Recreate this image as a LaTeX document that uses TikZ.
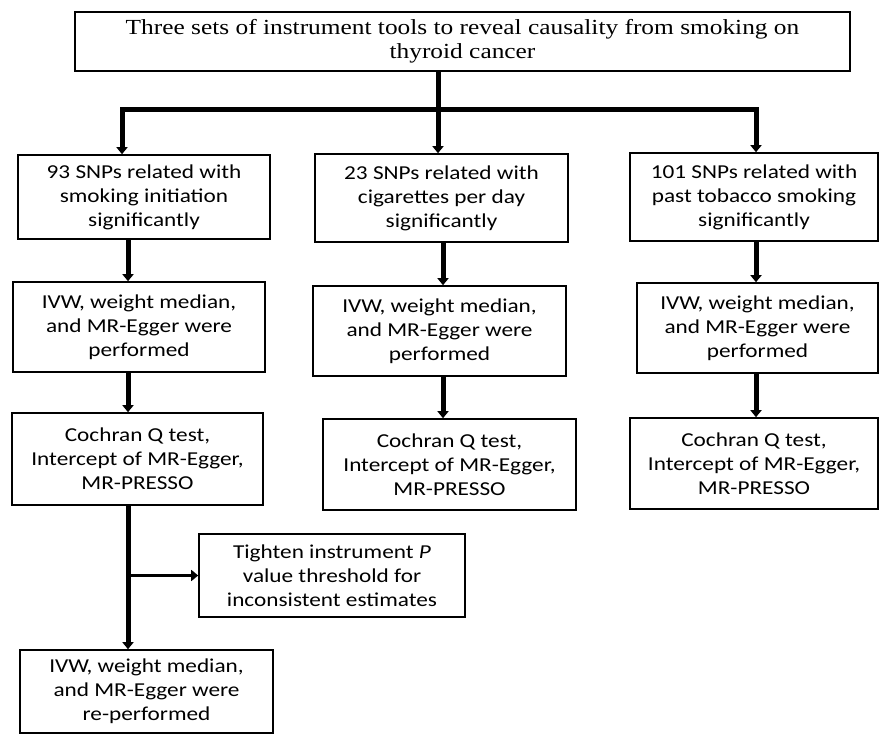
\documentclass[tikz,border=0pt]{standalone}
\usepackage{fontspec}
\setmainfont{Carlito}[FakeStretch=1.18]
\newfontfamily\titlefont{Liberation Serif}[FakeStretch=1.18]
\usetikzlibrary{arrows.meta,positioning}

\begin{document}
\begin{tikzpicture}[x=1pt,y=-1pt,>={Triangle[length=7pt,width=11pt]},
                    block/.style={rectangle, draw, line width=1.6pt, align=center, inner sep=0pt,
                                  minimum width=252pt, minimum height=90pt,
                                  font=\fontsize{19.7pt}{24pt}\selectfont},
                    flow/.style={line width=5pt},
                    side/.style={line width=3pt}]
  \useasboundingbox (0,0) rectangle (880,735);

  % Nodes
  \node[block, minimum width=775pt, minimum height=59pt,
        font=\titlefont\fontsize{21.5pt}{24pt}\selectfont] (goal) at (462.5,41.5)
        {Three sets of instrument tools to reveal causality from smoking on\\thyroid cancer};

  \node[block, minimum height=84pt] (snp1) at (144,197) {93 SNPs related with\\smoking initiation\\significantly};
  \node[block, minimum width=253pt, minimum height=88pt] (snp2) at (441.5,198) {23 SNPs related with\\cigarettes per day\\significantly};
  \node[block, minimum width=248pt, minimum height=88pt] (snp3) at (754,197) {101 SNPs related with\\past tobacco smoking\\significantly};

  \node[block] (ivw1) at (139,327) {IVW, weight median,\\and MR-Egger were\\performed};
  \node[block, minimum width=253pt] (ivw2) at (439.5,331) {IVW, weight median,\\and MR-Egger were\\performed};
  \node[block, minimum width=241pt] (ivw3) at (757.5,328) {IVW, weight median,\\and MR-Egger were\\performed};

  \node[block, minimum width=251pt, minimum height=92pt] (test1) at (137.5,459) {Cochran Q test,\\Intercept of MR-Egger,\\MR-PRESSO};
  \node[block, minimum width=253pt, minimum height=91pt] (test2) at (449.5,464.5) {Cochran Q test,\\Intercept of MR-Egger,\\MR-PRESSO};
  \node[block, minimum width=248pt, minimum height=91pt] (test3) at (754,463.5) {Cochran Q test,\\Intercept of MR-Egger,\\MR-PRESSO};

  \node[block, minimum width=266pt, minimum height=83pt] (tighten) at (332,575.5) {Tighten instrument \textit{P}\\value threshold for\\inconsistent estimates};
  \node[block, minimum width=253pt, minimum height=83pt] (redo) at (146.5,691.5) {IVW, weight median,\\and MR-Egger were\\re-performed};

  % Columns of the connectors
  \coordinate (split) at (438,110);
  \coordinate (d1) at (122,0);
  \coordinate (d3) at (756,0);
  \coordinate (k1) at (128,0);
  \coordinate (k2) at (443,0);
  \coordinate (k3) at (756,0);

  % Edges
  \draw[flow] (goal.south -| split) -- (split);
  \draw[flow,->] (split) -| (d1 |- snp1.north);
  \draw[flow,->] (split) -- (split |- snp2.north);
  \draw[flow,->] (split) -| (d3 |- snp3.north);

  \draw[flow,->] (snp1.south -| k1) -- (ivw1.north -| k1);
  \draw[flow,->] (snp2.south -| k2) -- (ivw2.north -| k2);
  \draw[flow,->] (snp3.south -| k3) -- (ivw3.north -| k3);

  \draw[flow,->] (ivw1.south -| k1) -- (test1.north -| k1);
  \draw[flow,->] (ivw2.south -| k2) -- (test2.north -| k2);
  \draw[flow,->] (ivw3.south -| k3) -- (test3.north -| k3);

  \draw[flow,->] (test1.south -| k1) -- (redo.north -| k1);
  \draw[side,->] (k1 |- tighten.west) -- (tighten.west);
\end{tikzpicture}
\end{document}
